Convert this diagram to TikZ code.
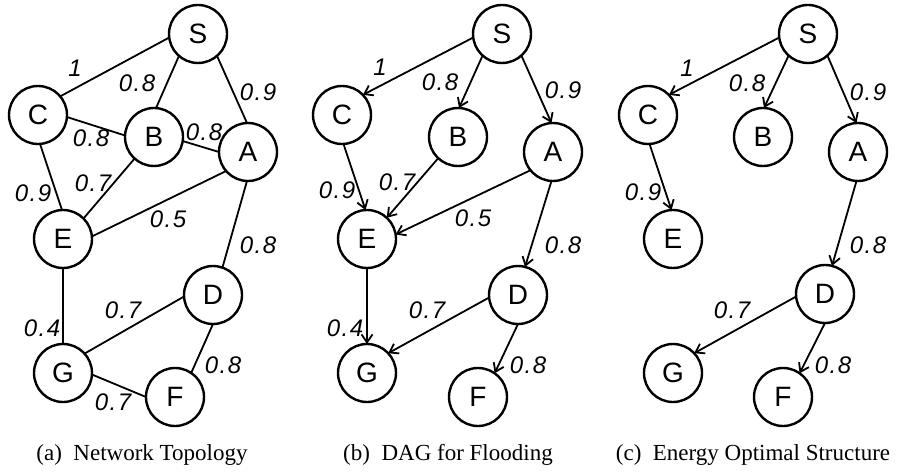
\documentclass[tikz,border=0pt]{standalone}
\usepackage{fontspec}
\setmainfont{Liberation Serif}
\newfontfamily\arialf{Liberation Sans}
\newfontfamily\arialit[LetterSpace=6]{Liberation Sans Italic}
\usetikzlibrary{arrows.meta}
\tikzset{
  vtx/.style={circle, draw, line width=2.4pt, minimum size=58pt, inner sep=0pt, outer sep=0pt,
    font=\arialf\fontsize{28}{28}\selectfont},
  edge/.style={line width=1.8pt},
  arc/.style={line width=1.8pt, -{Straight Barb[length=8pt,width=11pt,line width=1.8pt]}},
  wlab/.style={inner sep=0pt, font=\arialit\fontsize{24}{24}\selectfont},
  capt/.style={inner sep=0pt, font=\fontsize{23}{23}\selectfont}
}
\begin{document}
\begin{tikzpicture}[x=1pt,y=-1pt]
\useasboundingbox (0,0) rectangle (904,473);
% ---------- panel (a)
\begin{scope}[name prefix=a-]
\node[vtx] (S) at (198,34) {S};
\node[vtx] (C) at (38,115) {C};
\node[vtx] (B) at (154,137) {B};
\node[vtx] (A) at (248,152) {A};
\node[vtx] (E) at (63,239) {E};
\node[vtx] (D) at (213,295) {D};
\node[vtx] (G) at (63,373) {G};
\node[vtx] (F) at (175,397) {F};
\draw[edge] (S.187) -- (C.40);
\draw[edge] (S.229) -- (B.86);
\draw[edge] (S.311) -- (A.92);
\draw[edge] (C.356) -- (B.177);
\draw[edge] (B.352) -- (A.180);
\draw[edge] (C.274) -- (E.92);
\draw[edge] (B.228) -- (E.45);
\draw[edge] (A.221) -- (E.5);
\draw[edge] (A.268) -- (D.71);
\draw[edge] (E.270) -- (G.90);
\draw[edge] (D.183) -- (G.42);
\draw[edge] (D.270) -- (F.56);
\draw[edge] (G.357) -- (F.180);
\node[wlab] (l1) at (75,68) {1};
\node[wlab] (l2) at (137,83) {0.8};
\node[wlab] (l3) at (258,92) {0.9};
\node[wlab] (l4) at (91,138) {0.8};
\node[wlab] (l5) at (204,132) {0.8};
\node[wlab] (l6) at (33,193) {0.9};
\node[wlab] (l7) at (93,183) {0.7};
\node[wlab] (l8) at (168,219) {0.5};
\node[wlab] (l9) at (258,245) {0.8};
\node[wlab] (l10) at (42,328) {0.4};
\node[wlab] (l11) at (123,310) {0.7};
\node[wlab] (l12) at (223,365) {0.8};
\node[wlab] (l13) at (113,402) {0.7};
\node[capt] (cap) at (142,455) {(a)\hspace{0.5em}Network Topology};
\end{scope}
% ---------- panel (b)
\begin{scope}[xshift=304pt, name prefix=b-]
\node[vtx] (S) at (198,34) {S};
\node[vtx] (C) at (38,115) {C};
\node[vtx] (B) at (154,137) {B};
\node[vtx] (A) at (249,152) {A};
\node[vtx] (E) at (63,239) {E};
\node[vtx] (D) at (214,295) {D};
\node[vtx] (G) at (63,373) {G};
\node[vtx] (F) at (174,397) {F};
\draw[arc] (S.187) -- (C.44);
\draw[arc] (S.228) -- (B.88);
\draw[arc] (S.312) -- (A.93);
\draw[arc] (C.273) -- (E.93);
\draw[arc] (B.227) -- (E.47);
\draw[arc] (A.219) -- (E.9);
\draw[arc] (A.267) -- (D.76);
\draw[arc] (E.270) -- (G.90);
\draw[arc] (D.185) -- (G.43);
\draw[arc] (D.270) -- (F.55);
\node[wlab] (l1) at (76,67) {1};
\node[wlab] (l2) at (136,82) {0.8};
\node[wlab] (l3) at (259,90) {0.9};
\node[wlab] (l6) at (33,190) {0.9};
\node[wlab] (l7) at (93,182) {0.7};
\node[wlab] (l8) at (169,218) {0.5};
\node[wlab] (l9) at (259,245) {0.8};
\node[wlab] (l10) at (41,328) {0.4};
\node[wlab] (l11) at (123,310) {0.7};
\node[wlab] (l12) at (224,365) {0.8};
\node[capt] (cap) at (144,455) {(b)\hspace{0.5em}DAG for Flooding};
\end{scope}
% ---------- panel (c)
\begin{scope}[xshift=610pt, name prefix=c-]
\node[vtx] (S) at (198,34) {S};
\node[vtx] (C) at (38,115) {C};
\node[vtx] (B) at (153,137) {B};
\node[vtx] (A) at (248,152) {A};
\node[vtx] (E) at (63,239) {E};
\node[vtx] (D) at (215,294) {D};
\node[vtx] (G) at (63,373) {G};
\node[vtx] (F) at (173,397) {F};
\draw[arc] (S.187) -- (C.44);
\draw[arc] (S.228) -- (B.88);
\draw[arc] (S.312) -- (A.93);
\draw[arc] (C.273) -- (E.93);
\draw[arc] (A.267) -- (D.76);
\draw[arc] (D.185) -- (G.43);
\draw[arc] (D.270) -- (F.55);
\node[wlab] (l1) at (77,68) {1};
\node[wlab] (l2) at (137,83) {0.8};
\node[wlab] (l3) at (258,92) {0.9};
\node[wlab] (l6) at (33,192) {0.9};
\node[wlab] (l9) at (258,245) {0.8};
\node[wlab] (l11) at (122,310) {0.7};
\node[wlab] (l12) at (223,365) {0.8};
\node[capt] (cap) at (143,455) {(c)\hspace{0.5em}Energy Optimal Structure};
\end{scope}
\end{tikzpicture}
\end{document}
